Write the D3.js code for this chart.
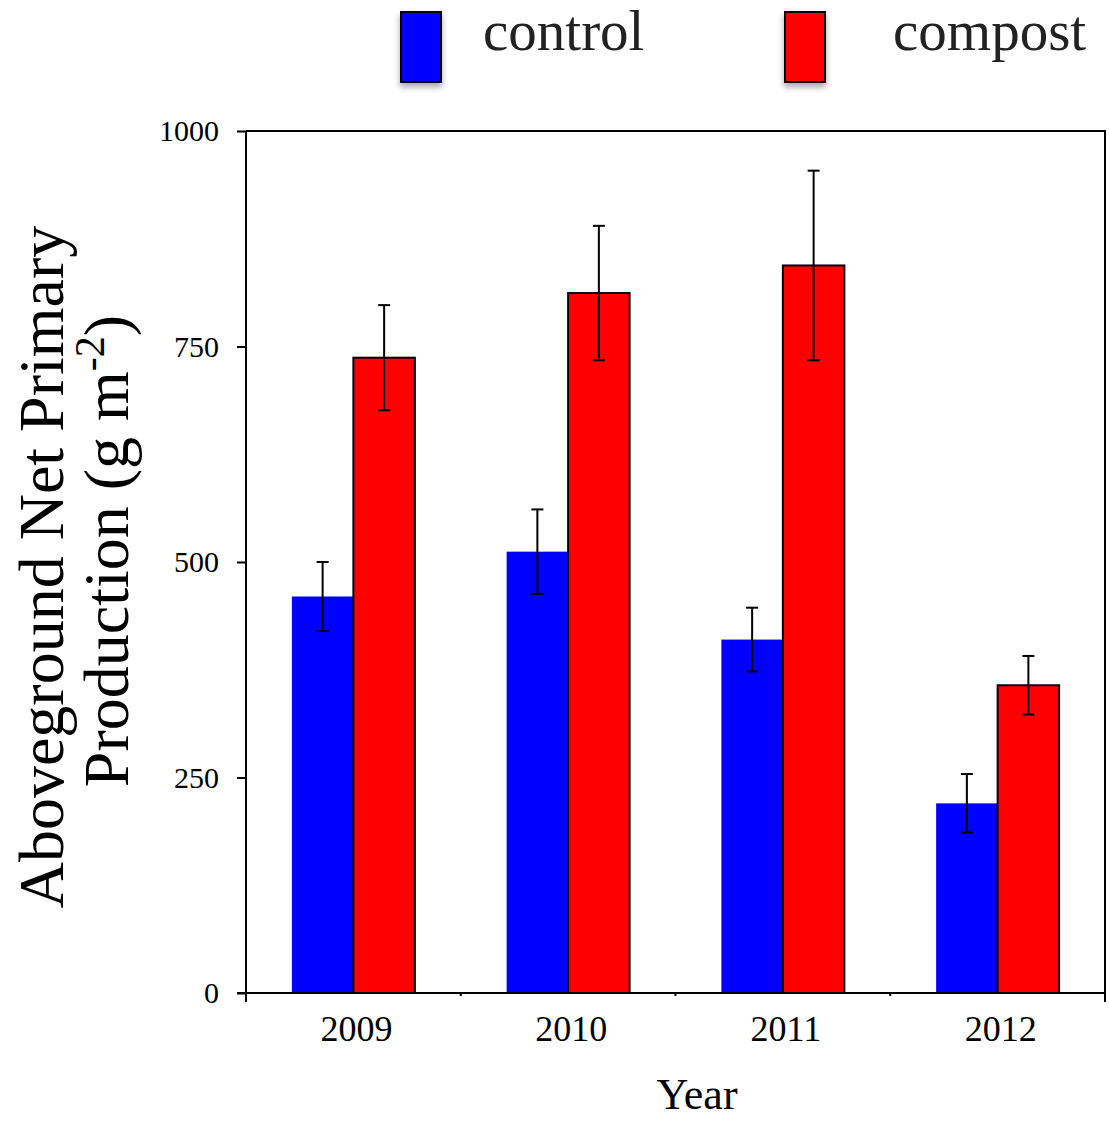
<!DOCTYPE html>
<html>
<head>
<meta charset="utf-8">
<script src="https://cdn.jsdelivr.net/npm/d3@7/dist/d3.min.js"></script>
<style>
  html, body { margin: 0; padding: 0; background: #fff; }
  svg { display: block; }
  text { font-family: "Liberation Serif", "Times New Roman", Times, serif; }
</style>
</head>
<body>
<svg id="chart" width="1109" height="1121"></svg>
<script>
// Aboveground net primary production by year, control vs compost plots
const years = ["2009", "2010", "2011", "2012"];
const seriesNames = ["control", "compost"];
const seriesColors = ["#0000ff", "#ff0000"];
const controlMean = [460, 512, 410, 220];
const controlErr = [40, 49, 37, 34];
const compostMean = [737, 812, 844, 357];
const compostErr = [61, 78, 110, 34];
const yTicks = [0, 250, 500, 750, 1000];

const svg = d3.select("#chart");
const plot = { left: 246, right: 1105, top: 131, bottom: 993 };

const x0 = d3.scaleBand().domain(years).range([plot.left, plot.right]).padding(0);
const x1 = d3.scaleBand().domain(seriesNames).range([0, x0.bandwidth()])
  .paddingInner(0).paddingOuter(0.746);
const y = d3.scaleLinear().domain([0, 1000]).range([plot.bottom, plot.top]);

const rows = years.map((yr, i) => ({
  year: yr,
  values: [
    { key: "control", mean: controlMean[i], err: controlErr[i] },
    { key: "compost", mean: compostMean[i], err: compostErr[i] }
  ]
}));
const color = d3.scaleOrdinal().domain(seriesNames).range(seriesColors);

// bars
const groups = svg.append("g").selectAll("g").data(rows).join("g")
  .attr("transform", d => `translate(${x0(d.year)},0)`);

groups.selectAll("rect").data(d => d.values).join("rect")
  .attr("x", d => x1(d.key))
  .attr("y", d => y(d.mean))
  .attr("width", x1.bandwidth())
  .attr("height", d => y(0) - y(d.mean))
  .attr("fill", d => color(d.key))
  .attr("stroke", d => d.key === "compost" ? "#000" : "none")
  .attr("stroke-width", 2);

// error bars
const eb = groups.selectAll("g.err").data(d => d.values).join("g").attr("class", "err")
  .attr("stroke", "#000").attr("stroke-width", 2);
eb.append("line")
  .attr("x1", d => x1(d.key) + x1.bandwidth() / 2)
  .attr("x2", d => x1(d.key) + x1.bandwidth() / 2)
  .attr("y1", d => y(d.mean + d.err))
  .attr("y2", d => y(d.mean - d.err));
eb.append("line")
  .attr("x1", d => x1(d.key) + x1.bandwidth() / 2 - 6)
  .attr("x2", d => x1(d.key) + x1.bandwidth() / 2 + 6)
  .attr("y1", d => y(d.mean + d.err))
  .attr("y2", d => y(d.mean + d.err));
eb.append("line")
  .attr("x1", d => x1(d.key) + x1.bandwidth() / 2 - 6)
  .attr("x2", d => x1(d.key) + x1.bandwidth() / 2 + 6)
  .attr("y1", d => y(d.mean - d.err))
  .attr("y2", d => y(d.mean - d.err));

// frame
const frame = svg.append("g").attr("stroke", "#000").attr("stroke-width", 2).attr("fill", "none");
frame.append("line").attr("x1", plot.left).attr("x2", plot.right + 1).attr("y1", plot.top).attr("y2", plot.top);
frame.append("line").attr("x1", plot.right).attr("x2", plot.right).attr("y1", plot.top).attr("y2", plot.bottom + 9);

// y axis
const yAxis = d3.axisLeft(y).tickValues(yTicks).tickSize(9).tickPadding(18).tickFormat(d3.format("d"));
const gy = svg.append("g").attr("transform", `translate(${plot.left},0)`).call(yAxis);
gy.select(".domain").remove();
gy.append("line").attr("x1", 0).attr("x2", 0).attr("y1", plot.top).attr("y2", plot.bottom + 9)
  .attr("stroke", "#000").attr("stroke-width", 2);
gy.selectAll(".tick line").attr("stroke-width", 2);
gy.selectAll(".tick text").attr("font-size", 30).attr("fill", "#000")
  .style("font-family", '"Liberation Serif", "Times New Roman", serif');

// x axis: small ticks at the group boundaries, year labels centred under groups
const gx = svg.append("g").attr("transform", `translate(0,${plot.bottom})`);
gx.append("line").attr("x1", plot.left - 9).attr("x2", plot.right).attr("y1", 0).attr("y2", 0)
  .attr("stroke", "#000").attr("stroke-width", 2);
gx.selectAll("line.sep").data(years.slice(1)).join("line").attr("class", "sep")
  .attr("x1", d => x0(d)).attr("x2", d => x0(d)).attr("y1", 0).attr("y2", 3)
  .attr("stroke", "#000").attr("stroke-width", 2);
gx.selectAll("text.yr").data(years).join("text").attr("class", "yr")
  .attr("x", d => x0(d) + x0.bandwidth() / 2 + 3)
  .attr("y", 48)
  .attr("text-anchor", "middle")
  .attr("font-size", 36)
  .text(d => d);

// axis titles
svg.append("text").attr("x", 697).attr("y", 1109).attr("text-anchor", "middle")
  .attr("font-size", 44).text("Year");

const yt = svg.append("g").attr("transform", "translate(63,567) rotate(-90)");
yt.append("text").attr("x", 0).attr("y", 0).attr("text-anchor", "middle")
  .attr("font-size", 64).text("Aboveground Net Primary");
const yt2 = yt.append("text").attr("x", 16).attr("y", 65).attr("text-anchor", "middle")
  .attr("font-size", 64);
yt2.append("tspan").text("Production (g m");
yt2.append("tspan").attr("font-size", 42).attr("dy", -24).text("-2");
yt2.append("tspan").attr("dy", 24).text(")");

// legend
const defs = svg.append("defs");
const f = defs.append("filter").attr("id", "shadow").attr("x", "-50%").attr("y", "-50%")
  .attr("width", "200%").attr("height", "200%");
f.append("feDropShadow").attr("dx", 0).attr("dy", 4).attr("stdDeviation", 3)
  .attr("flood-color", "#000").attr("flood-opacity", 0.35);

const legendX = [401, 785];
const legendTextX = [483, 893];
const lg = svg.append("g");
seriesNames.forEach((name, i) => {
  lg.append("rect").attr("x", legendX[i]).attr("y", 12).attr("width", 40).attr("height", 70)
    .attr("fill", seriesColors[i]).attr("stroke", "#000").attr("stroke-width", 2)
    .attr("filter", "url(#shadow)");
  lg.append("text").attr("x", legendTextX[i]).attr("y", 50).attr("font-size", 57)
    .attr("fill", "#222").text(name);
});
</script>
</body>
</html>
